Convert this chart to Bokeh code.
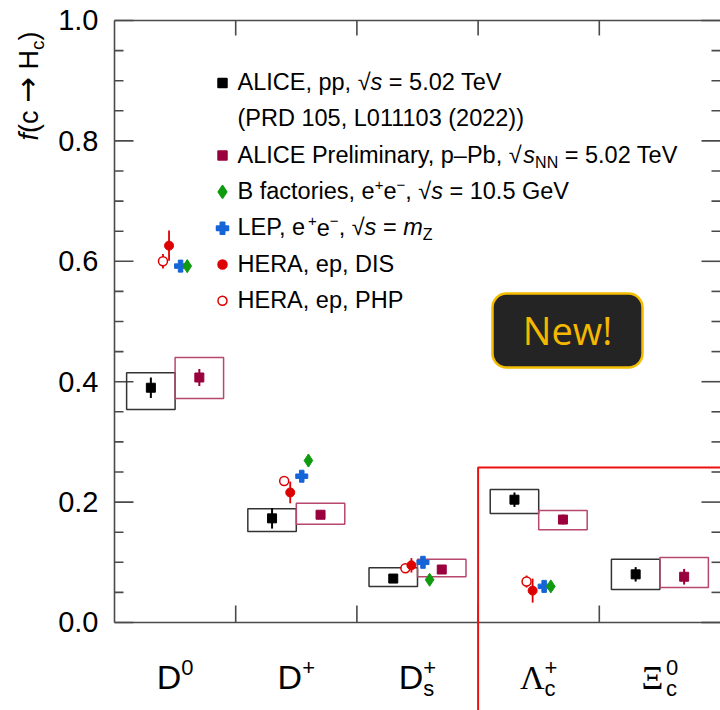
import numpy as np
from bokeh.plotting import figure
from bokeh.models import (ColumnDataSource, Range1d, Label, BoxAnnotation, PolyAnnotation)
from bokeh.embed import file_html
from bokeh.resources import INLINE

# ---------------- data ----------------
categories = ["D0", "D+", "Ds+", "Lc+", "Xic0"]
# ALICE pp, sqrt(s) = 5.02 TeV
pp_val = [0.390, 0.173, 0.073, 0.204, 0.080]
pp_stat = [0.017, 0.017, 0.007, 0.012, 0.012]
pp_sys_hi = [0.415, 0.189, 0.091, 0.221, 0.105]
pp_sys_lo = [0.354, 0.151, 0.060, 0.181, 0.055]
# ALICE Preliminary p-Pb, sqrt(sNN) = 5.02 TeV
ppb_val = [0.407, 0.179, 0.088, 0.171, 0.076]
ppb_stat = [0.014, 0.007, 0.006, 0.008, 0.013]
ppb_sys_hi = [0.440, 0.198, 0.105, 0.186, 0.108]
ppb_sys_lo = [0.372, 0.163, 0.076, 0.154, 0.058]
# e+e- and ep (D0, D+, Ds+, Lc+)
bfac_val = [0.592, 0.269, 0.071, 0.060]
bfac_err = [0.010, 0.010, 0.006, 0.005]
lep_val = [0.592, 0.243, 0.100, 0.060]
lep_err = [0.010, 0.006, 0.005, 0.006]
dis_val = [0.626, 0.216, 0.095, 0.053]
dis_err = [0.025, 0.018, 0.012, 0.020]
php_val = [0.600, 0.235, 0.090, 0.068]
php_err = [0.012, 0.008, 0.006, 0.010]
y_ticks = [0.0, 0.2, 0.4, 0.6, 0.8, 1.0]
y_tick_labels = ["0.0", "0.2", "0.4", "0.6", "0.8", "1.0"]
y_minor = [round(0.05 * k, 2) for k in range(21)]

# ---------------- layout ----------------
W, H = 720, 710
FL, FR, FT, FB = 114, 720, 20, 622     # plotting area inside the canvas (pixels)
NC = len(categories)
FONT = "Liberation Sans"
SERIF = "Liberation Serif"
ARROWF = "DejaVu Sans"
AX = "#4a4a4a"
MAROON = "#99003d"
MAROON_BOX = "#b8476c"
RED = "#dd0000"
BLUE = "#1565d8"
GREEN = "#109a10"
XPX = (FR - FL) / NC      # pixels per category
YPX = (FB - FT)           # pixels per unit of f


def sx(px):
    return (px - FL) / XPX


def sy(py):
    return (FB - py) / YPX


def px_of_y(v):
    return FB - v * YPX


# the frame spans the whole canvas so that texts outside the data area are not clipped
p = figure(width=W, height=H, x_range=Range1d(sx(0), sx(W)), y_range=Range1d(sy(H), sy(0)),
           output_backend="svg", toolbar_location=None,
           x_axis_location=None, y_axis_location=None, min_border=0)
p.outline_line_color = None
p.grid.visible = False
p.background_fill_color = "white"
p.border_fill_color = "white"

# ---------------- axes (frame lines and inner ticks) ----------------
boundaries = np.arange(1, NC)
ax = dict(x0=[], y0=[], x1=[], y1=[])


def seg(x0, y0, x1, y1):
    ax["x0"].append(x0)
    ax["y0"].append(y0)
    ax["x1"].append(x1)
    ax["y1"].append(y1)


seg(0, 0, 0, 1)          # left axis line
seg(0, 0, NC, 0)         # bottom axis line
seg(0, 1, NC, 1)         # top axis line
for b in boundaries:
    seg(b, 0, b, 17 / YPX)
    seg(b, 1, b, 1 - 15 / YPX)
for t in y_minor:
    ln = 19 if any(abs(t - m) < 1e-9 for m in y_ticks) else 9
    seg(0, t, ln / XPX, t)
    seg(NC, t, NC - ln / XPX, t)
p.segment(x0="x0", y0="y0", x1="x1", y1="y1", source=ColumnDataSource(ax),
          line_color=AX, line_width=1.6)

# ---------------- data marks ----------------
idx = np.arange(NC)


def alice_src(val, stat, lo, hi, off):
    v = np.array(val)
    s = np.array(stat)
    x = idx + off
    return ColumnDataSource(dict(x=x, y=v, lo=v - s, hi=v + s, slo=lo, shi=hi,
                                 bl=x - 0.2, br=x + 0.2))


pp_src = alice_src(pp_val, pp_stat, pp_sys_lo, pp_sys_hi, 0.3)
ppb_src = alice_src(ppb_val, ppb_stat, ppb_sys_lo, ppb_sys_hi, 0.7)

for src, col in ((pp_src, "#333333"), (ppb_src, MAROON_BOX)):
    p.quad(left="bl", right="br", bottom="slo", top="shi", source=src,
           fill_color=None, line_color=col, line_width=1.5)

ni = np.arange(len(bfac_val))
others = [
    (php_val, php_err, 0.40, "circle", RED, "white", 9, 1.5),
    (dis_val, dis_err, 0.45, "circle", RED, RED, 9, 1.0),
    (lep_val, lep_err, 0.545, "plus", BLUE, BLUE, 12, 1.0),
    (bfac_val, bfac_err, 0.60, "diamond", GREEN, GREEN, 13, 1.0),
]
for vals, errs, off, mk, lc, fc, sz, lw in others:
    v = np.array(vals)
    e = np.array(errs)
    src = ColumnDataSource(dict(x=ni + off, y=v, lo=v - e, hi=v + e))
    p.segment(x0="x", y0="lo", x1="x", y1="hi", source=src, line_color=lc, line_width=1.8)
    p.scatter(x="x", y="y", source=src, marker=mk, size=sz, line_color=lc,
              fill_color=fc, line_width=lw)

for src, col in ((pp_src, "black"), (ppb_src, MAROON)):
    p.segment(x0="x", y0="lo", x1="x", y1="hi", source=src, line_color=col, line_width=2)
    p.scatter(x="x", y="y", source=src, marker="square", size=9,
              line_color=col, fill_color=col)

# ---------------- text helpers (canvas pixel units) ----------------
AW = {FONT: {' ': 278, '!': 278, '(': 333, ')': 333, '+': 584, ',': 278, '-': 333, '.': 278,
             '=': 584, 'A': 667, 'B': 667, 'C': 722, 'D': 722, 'E': 667, 'G': 778, 'H': 722,
             'I': 278, 'L': 556, 'N': 722, 'P': 667, 'R': 722, 'S': 667, 'T': 611, 'V': 667,
             'Z': 611, 'a': 556, 'c': 500, 'e': 556, 'f': 278, 'i': 222, 'l': 222, 'm': 833,
             'n': 556, 'o': 556, 'p': 556, 'r': 333, 's': 500, 't': 278, 'y': 500,
             '\u2013': 556, '\u2212': 584, '\u221a': 549},
      SERIF: {'\u039b': 722, '\u039e': 722},
      ARROWF: {'\u2192': 838, ' ': 318}}
BASE_FIX = 0.36   # observed downward offset of the alphabetic baseline (fraction of size)


def tw(s, size, font=FONT):
    tab = AW.get(font, AW[FONT])
    return sum(tab.get(c, 556) for c in s) * size / 1000.0


def put(px, py, text, size, style="normal", color="black", font=FONT, angle=0.0,
        align="left", fix=BASE_FIX):
    if angle == 0:
        py = py - fix * size
    else:
        px = px - fix * size
    p.add_layout(Label(x=px, y=py, x_units="canvas", y_units="canvas", text=text,
                       text_font=font, text_font_size=f"{size}px",
                       text_font_style=style, text_color=color, text_align=align,
                       text_baseline="alphabetic", angle=angle))


def rich(x0, y0, segs, angle=0.0, color="black"):
    pos = 0.0
    for sg in segs:
        text, size, style, shift = sg[:4]
        font = sg[4] if len(sg) > 4 else FONT
        lead = len(text) - len(text.lstrip(' '))
        body = text.strip(' ')
        at = pos + tw(' ' * lead, size, font)
        if angle == 0:
            px, py = x0 + at, y0 + shift
        else:
            px, py = x0 + shift, y0 - at
        if body:
            put(px, py, body, size, style, color, font=font, angle=angle)
        pos += tw(text, size, font)
    return pos


# y tick labels
TS = 29
for t, lab in zip(y_ticks, y_tick_labels):
    put(FL - 16, px_of_y(t) + 0.358 * TS, lab, TS, align="right")

# y-axis title  f(c -> H_c)
rich(38, 140, [("f", 27, "italic", 0), ("(c ", 27, "normal", 0),
               ("\u2192", 31, "normal", 0, ARROWF), (" H", 27, "normal", 0),
               ("c", 19, "normal", 6), (")", 27, "normal", 0)], angle=np.pi / 2)

# category labels
cat_main = ["D", "D", "D", "\u039b", "\u039e"]
cat_font = [FONT, FONT, FONT, SERIF, SERIF]
cat_sup = ["0", "+", "+", "+", "0"]
cat_sub = ["", "", "s", "c", "c"]
MS, SS, CB = 34, 22, 689
for i in range(NC):
    wm = tw(cat_main[i], MS, cat_font[i])
    ws = max(tw(cat_sup[i], SS), tw(cat_sub[i], SS))
    cx = FL + (i + 0.5) * XPX
    x0 = cx - (wm + ws) / 2
    rich(x0, CB, [(cat_main[i], MS, "normal", 0, cat_font[i])])
    if cat_sup[i]:
        rich(x0 + wm, CB, [(cat_sup[i], SS, "normal", -14)])
    if cat_sub[i]:
        rich(x0 + wm, CB, [(cat_sub[i], SS, "normal", 7)])

# ---------------- legend ----------------
LX, LT, LB0, LSTEP = 237, 23.5, 90, 36.3
SUP, SUB = 15, 16
rows = [
    [("ALICE, pp, \u221a", LT, "normal", 0), ("s", LT, "italic", 0), (" = 5.02 TeV", LT, "normal", 0)],
    [("(PRD 105, L011103 (2022))", LT, "normal", 0)],
    [("ALICE Preliminary, p\u2013Pb, \u221a", LT, "normal", 0), ("s", LT, "italic", 0),
     ("NN", SUB, "normal", 5), (" = 5.02 TeV", LT, "normal", 0)],
    [("B factories, e", LT, "normal", 0), ("+", SUP, "normal", -9), ("e", LT, "normal", 0),
     ("\u2212", SUP, "normal", -9), (", \u221a", LT, "normal", 0), ("s", LT, "italic", 0),
     (" = 10.5 GeV", LT, "normal", 0)],
    [("LEP, e", LT, "normal", 0), ("+", SUP, "normal", -9), ("e", LT, "normal", 0),
     ("\u2212", SUP, "normal", -9), (", \u221a", LT, "normal", 0), ("s", LT, "italic", 0),
     (" = ", LT, "normal", 0), ("m", LT, "italic", 0), ("Z", SUB, "normal", 5)],
    [("HERA, ep, DIS", LT, "normal", 0)],
    [("HERA, ep, PHP", LT, "normal", 0)],
]
for k, segs in enumerate(rows):
    rich(LX, LB0 + k * LSTEP, segs)

key_rows = [0, 2, 3, 4, 5, 6]
key_src = ColumnDataSource(dict(
    x=[sx(LX - 15)] * len(key_rows),
    y=[sy(LB0 + r * LSTEP - 7.5) for r in key_rows],
    marker=["square", "square", "diamond", "plus", "circle", "circle"],
    line=["black", MAROON, GREEN, BLUE, RED, RED],
    fill=["black", MAROON, GREEN, BLUE, RED, "white"],
    size=[9, 9, 13, 12, 9, 9],
))
p.scatter(x="x", y="y", source=key_src, marker="marker", size="size",
          line_color="line", fill_color="fill", line_width=1.5)

# ---------------- highlight box and badge ----------------
hx = FL + 3 * XPX
p.add_layout(PolyAnnotation(xs=[hx, hx, W + 40, W + 40], ys=[H + 40, 467, 467, H + 40],
                            xs_units="canvas", ys_units="canvas",
                            fill_alpha=0, line_color="#ee1111", line_alpha=1.0,
                            line_width=2))
p.add_layout(BoxAnnotation(left=sx(492), right=sx(642), bottom=sy(367), top=sy(293),
                           fill_color="#242424", fill_alpha=1, line_color="#f5bd00",
                           line_alpha=1.0, line_width=2.5, border_radius=14))
put(567, 345, "New!", 38, color="#f5b800", font="Open Sans", align="center", fix=0.40)

open("out.html", "w").write(file_html(p, INLINE))
